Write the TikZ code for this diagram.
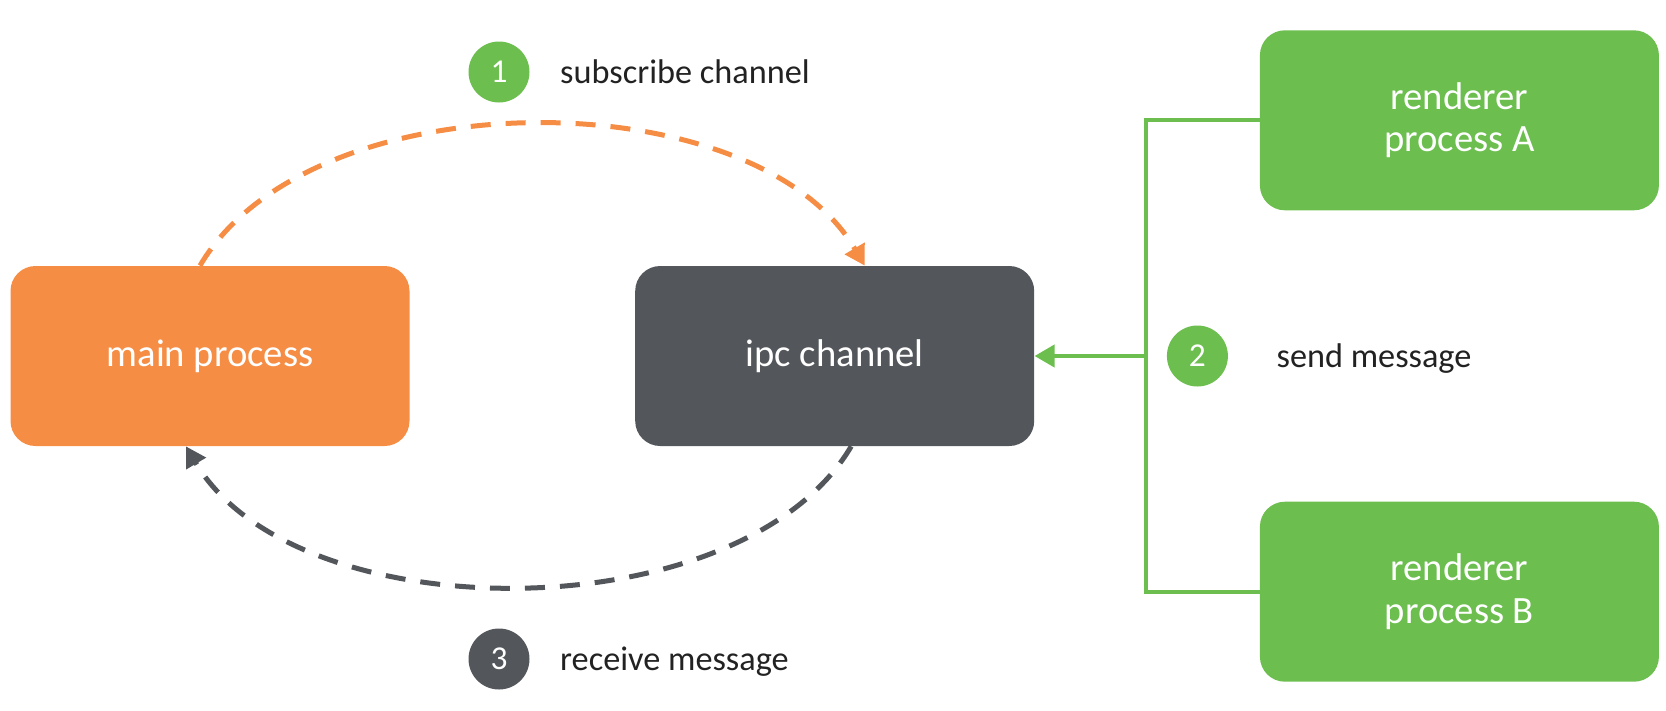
\documentclass[tikz,border=0pt]{standalone}
\usepackage{fontspec}
\setmainfont{Carlito}
\usetikzlibrary{arrows.meta,positioning}
\definecolor{orng}{HTML}{F68D45}
\definecolor{slate}{HTML}{53575B}
\definecolor{leaf}{HTML}{6CBE4F}
\definecolor{ink}{HTML}{222222}

\begin{document}
\begin{tikzpicture}[node distance=4.5cm,>={Triangle[length=4mm,width=4.4mm]},
box/.style={rounded corners=5mm,text=white,align=center,minimum width=7.98cm,minimum height=3.6cm,font=\fontsize{22}{24}\selectfont},
num/.style={circle,text=white,minimum size=1.22cm,inner sep=0pt,font=\fontsize{19}{20}\selectfont},
lbl/.style={text=ink,inner sep=0pt,text height=1.5ex,text depth=.3ex,yshift=-1.3mm,font=\fontsize{19.5}{22}\selectfont},
flow/.style={line width=1mm,dash pattern=on 4mm off 3mm}]
\useasboundingbox (0,0) rectangle (33.32,-14.2);
\node[box,fill=orng](main) at (4.2,-7.12){main process};
\node[box,fill=slate,right=of main](ipc){ipc channel};
\node[box,fill=leaf,above right=1.1cm and 4.5cm of ipc](ra){renderer\\process A};
\node[box,fill=leaf,below right=1.1cm and 4.5cm of ipc](rb){renderer\\process B};
\coordinate[right=2.22cm of ipc.east](hub);
\node[num,fill=leaf](n1) at (9.98,-1.44){1};
\node[lbl,right=6mm of n1](l1){subscribe channel};
\node[num,fill=leaf,right=4.2mm of hub](n2){2};
\node[lbl,right=9.6mm of n2](l2){send message};
\node[num,fill=slate](n3) at (9.98,-13.18){3};
\node[lbl,right=6mm of n3](l3){receive message};
\draw[->,flow,orng]([xshift=-2mm]main.north) .. controls +(2.2,3.76) and +(-2.2,3.76) .. ([xshift=6mm]ipc.north);
\draw[->,flow,slate]([xshift=3.3mm]ipc.south) .. controls +(-2.2,-3.73) and +(2.2,-3.73) .. ([xshift=-4.8mm]main.south);
\draw[line width=.8mm,leaf](ra.west) -| (hub) |- (rb.west);
\draw[->,line width=.8mm,leaf](hub) -- (ipc.east);
\end{tikzpicture}
\end{document}
